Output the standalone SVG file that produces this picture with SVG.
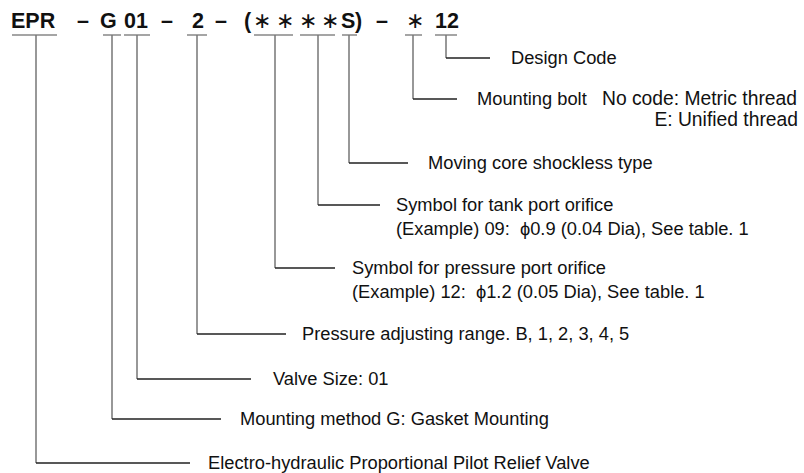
<svg xmlns="http://www.w3.org/2000/svg" width="804" height="473" viewBox="0 0 804 473">
<style>
.h{font-family:"Liberation Sans",Arial,sans-serif;font-weight:bold;font-size:21.5px;fill:#111}
.a{font-family:"Liberation Sans",Arial,sans-serif;font-size:21.5px;fill:#111}
.t{font-family:"Liberation Sans",Arial,sans-serif;font-size:18.3px;fill:#111;white-space:pre}
.b{font-size:19.3px}
.u{stroke:#888;stroke-width:1.5;fill:none}
.v{stroke:#777;stroke-width:1.5;fill:none}
.k{stroke:#222;stroke-width:1.5;fill:none}
</style>
<rect width="804" height="473" fill="#fff"/>
<g id="code">
<text class="h" x="11" y="28">EPR</text>
<text class="h" x="77" y="28">–</text>
<text class="h" x="100" y="28">G</text>
<text class="h" x="124" y="28">01</text>
<text class="h" x="161" y="28">–</text>
<text class="h" x="192" y="28">2</text>
<text class="h" x="215" y="28">–</text>
<text class="h" x="244" y="28">(</text>
<text class="a" x="253" y="28">∗</text>
<text class="a" x="276" y="28">∗</text>
<text class="a" x="299" y="28">∗</text>
<text class="a" x="321" y="28">∗</text>
<text class="h" x="341" y="28">S</text>
<text class="h" x="355" y="28">)</text>
<text class="h" x="376" y="28">–</text>
<text class="a" x="406" y="28">∗</text>
<text class="h" x="435" y="28">12</text>
<path class="u" d="M12 35H57M103 35H121M124 35H150M187 35H207M254 35H293M300 35H335M342 35H357M405 35H422M435 35H457"/>
</g>
<g id="connectors">
<path class="v" d="M446 35V58M413 35V99M349 35V163M318 35V205M275 35V268M197 35V334M137 35V379M112 35V419M36 35V463"/>
<path class="k" d="M446 58H490M413 99H457M349 163H408M318 205H380M275 268H335M197 334H286M137 379H251M112 419H221M36 463H190"/>
</g>
<g id="design-code"><text class="t" x="511" y="64">Design Code</text></g>
<g id="mounting-bolt"><text class="t" x="477" y="105">Mounting bolt</text><text class="t b" x="797" y="105" text-anchor="end">No code: Metric thread</text><text class="t b" x="798" y="126" text-anchor="end">E: Unified thread</text></g>
<g id="shockless"><text class="t" x="428" y="169">Moving core shockless type</text></g>
<g id="tank-orifice"><text class="t" x="396" y="211">Symbol for tank port orifice</text><text class="t" x="396" y="235" xml:space="preserve">(Example) 09:  ϕ0.9 (0.04 Dia), See table. 1</text></g>
<g id="pressure-orifice"><text class="t" x="352" y="274">Symbol for pressure port orifice</text><text class="t" x="352" y="298" xml:space="preserve">(Example) 12:  ϕ1.2 (0.05 Dia), See table. 1</text></g>
<g id="pressure-range"><text class="t" x="302" y="340">Pressure adjusting range. B, 1, 2, 3, 4, 5</text></g>
<g id="valve-size"><text class="t" x="273" y="385">Valve Size: 01</text></g>
<g id="mounting-method"><text class="t" x="240" y="425">Mounting method G: Gasket Mounting</text></g>
<g id="valve-type"><text class="t" x="208" y="469">Electro-hydraulic Proportional Pilot Relief Valve</text></g>
</svg>
